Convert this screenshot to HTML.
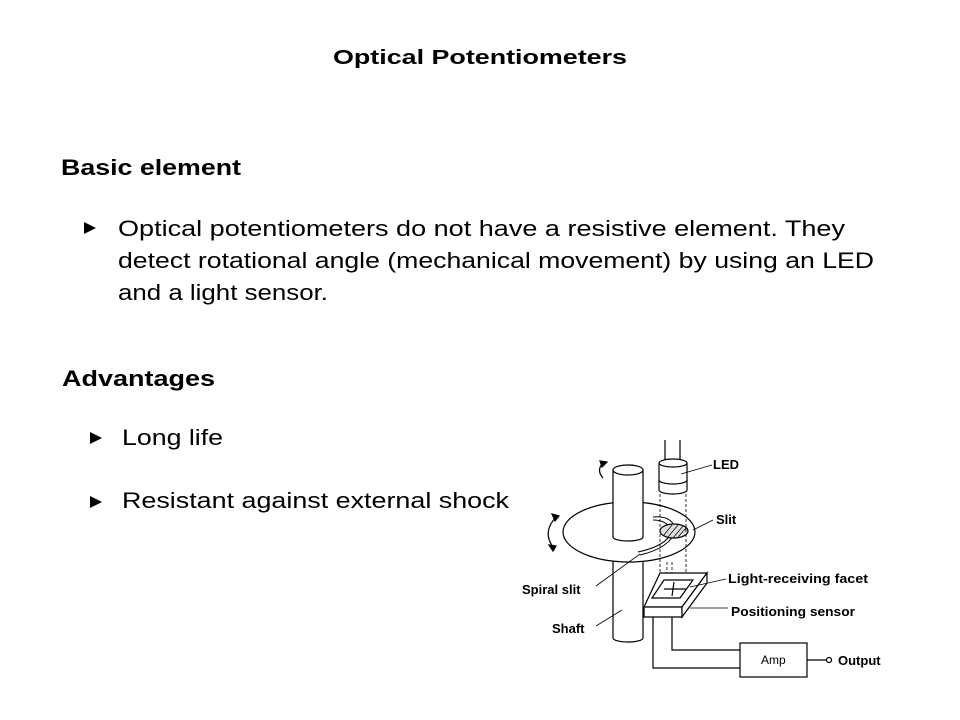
<!DOCTYPE html>
<html><head><meta charset="utf-8"><style>
html,body{margin:0;padding:0;background:#fff;}
svg{display:block;font-family:"Liberation Sans",Arial,sans-serif;}
</style></head><body>
<svg width="960" height="720" viewBox="0 0 960 720" xmlns="http://www.w3.org/2000/svg">
<rect width="960" height="720" fill="#fff"/>
<text x="333" y="64" font-size="20" font-weight="bold" textLength="294" lengthAdjust="spacingAndGlyphs">Optical Potentiometers</text>
<text x="61" y="175" font-size="22" font-weight="bold" textLength="180" lengthAdjust="spacingAndGlyphs">Basic element</text>
<polygon points="84,222 84,234 96,228" fill="#000"/>
<text x="118" y="236" font-size="22" textLength="727" lengthAdjust="spacingAndGlyphs">Optical potentiometers do not have a resistive element. They</text>
<text x="118" y="268" font-size="22" textLength="756" lengthAdjust="spacingAndGlyphs">detect rotational angle (mechanical movement) by using an LED</text>
<text x="118" y="300" font-size="22" textLength="210" lengthAdjust="spacingAndGlyphs">and a light sensor.</text>
<text x="62" y="386" font-size="22" font-weight="bold" textLength="153" lengthAdjust="spacingAndGlyphs">Advantages</text>
<polygon points="90,432 90,444 102,438" fill="#000"/>
<text x="122" y="445" font-size="22" textLength="101" lengthAdjust="spacingAndGlyphs">Long life</text>
<polygon points="90,496 90,508 102,502" fill="#000"/>
<text x="122" y="508" font-size="22" textLength="387" lengthAdjust="spacingAndGlyphs">Resistant against external shock</text>

<g fill="none" stroke="#000" stroke-width="1.2">
  <line x1="613" y1="560" x2="613" y2="638"/>
  <line x1="643" y1="560" x2="643" y2="638"/>
  <path d="M613,638 A15,4 0 0 0 643,638"/>
  <ellipse cx="629" cy="532" rx="66" ry="30" fill="#fff"/>
  <rect x="613" y="470" width="30" height="67" fill="#fff" stroke="none"/>
  <line x1="613" y1="470" x2="613" y2="537"/>
  <line x1="643" y1="470" x2="643" y2="537"/>
  <path d="M613,537 A15,4 0 0 0 643,537"/>
  <ellipse cx="628" cy="470" rx="15" ry="5" fill="#fff"/>
  <path d="M603,463 Q596,470 603,478"/>
  <polygon points="600,461 607,462 602,467" fill="#000"/>
  <path d="M556,517 Q542,532 553,547"/>
  <polygon points="552,514 559,516 555,521" fill="#000"/>
  <polygon points="549,545 556,546 553,551" fill="#000"/>
  <path d="M653,517 Q672,515 676,530 Q670,548 640,555" stroke-width="1"/>
  <path d="M653,520 Q668,520 672,532 Q666,546 638,552" stroke-width="1"/>
  <ellipse cx="674" cy="531" rx="14" ry="7" fill="#ddd"/>
  <g stroke-width="0.7"><line x1="664" y1="535" x2="672" y2="525"/><line x1="668" y1="537" x2="678" y2="525"/><line x1="673" y1="538" x2="683" y2="526"/><line x1="678" y1="537" x2="686" y2="528"/></g>
  <line x1="665" y1="440" x2="665" y2="460"/>
  <line x1="680" y1="440" x2="680" y2="460"/>
  <path d="M659,463 L659,490 A14,4 0 0 0 687,490 L687,463"/>
  <ellipse cx="673" cy="463" rx="14" ry="4" fill="#fff"/>
  <path d="M659,480 A14,4 0 0 0 687,480"/>
  <g stroke-dasharray="3,2" stroke-width="0.8">
    <line x1="660" y1="494" x2="660" y2="578"/>
    <line x1="686" y1="494" x2="686" y2="578"/>
    <line x1="667" y1="562" x2="667" y2="578"/>
    <line x1="672" y1="562" x2="672" y2="578"/>
  </g>
  <polygon points="660,573 707,573 682,607 644,607" fill="#fff"/>
  <polygon points="644,607 682,607 682,617 644,617" fill="#fff"/>
  <polygon points="682,607 707,573 707,583 682,617" fill="#fff"/>
  <polygon points="664,580 693,580 680,598 652,598"/>
  <line x1="664" y1="589" x2="686" y2="589"/>
  <line x1="674" y1="582" x2="672" y2="596"/>
  <polyline points="653,617 653,668 740,668"/>
  <polyline points="672,617 672,650 740,650"/>
  <rect x="740" y="643" width="67" height="34" fill="#fff"/>
  <line x1="807" y1="660" x2="826" y2="660"/>
  <circle cx="829" cy="660" r="2.5" fill="#fff"/>
  <g stroke-width="0.8">
    <line x1="712" y1="465" x2="681" y2="474"/>
    <line x1="713" y1="520" x2="693" y2="530"/>
    <line x1="596" y1="586" x2="640" y2="554"/>
    <line x1="596" y1="626" x2="622" y2="610"/>
    <line x1="726" y1="579" x2="690" y2="587"/>
    <line x1="728" y1="608" x2="690" y2="608"/>
  </g>
</g>
<g font-size="13" font-weight="bold" fill="#000">
  <text x="713" y="469">LED</text>
  <text x="716" y="524">Slit</text>
  <text x="728" y="583" textLength="140" lengthAdjust="spacingAndGlyphs">Light-receiving facet</text>
  <text x="731" y="616" textLength="124" lengthAdjust="spacingAndGlyphs">Positioning sensor</text>
  <text x="522" y="594">Spiral slit</text>
  <text x="552" y="633">Shaft</text>
  <text x="838" y="665">Output</text>
</g>
<text x="761" y="664" font-size="12">Amp</text>
</svg>
</body></html>
